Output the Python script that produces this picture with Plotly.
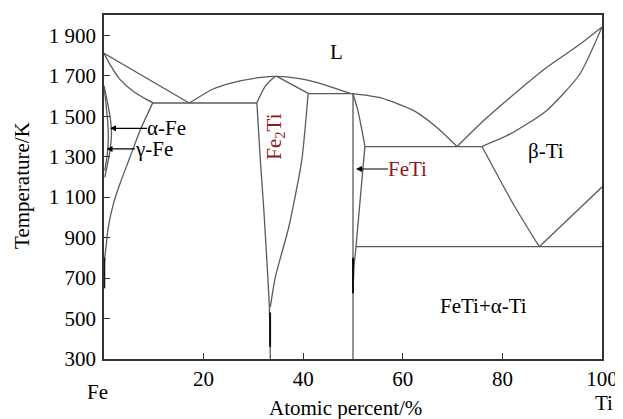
import plotly.graph_objects as go

# ---- data (atomic % Ti, temperature K) ----
fe_liquidus_x = [0, 17.1]
fe_liquidus_t = [1811, 1565]

fe_solidus_x = [0, 1.2, 3.2, 5.8, 8.5, 9.8]
fe_solidus_t = [1811, 1756, 1682, 1624, 1583, 1567]

eutectic1_x = [9.8, 30.7]
eutectic1_t = [1565, 1565]

fe2ti_liquidus_x = [17.1, 17.8, 21.8, 25.7, 31.1, 34.7, 39.0, 43.0, 47.0, 49.6]
fe2ti_liquidus_t = [1565, 1575, 1633, 1665, 1690, 1697, 1687, 1665, 1633, 1611]

fe2ti_solidus_left_x = [34.7, 34.3, 32.4, 30.7]
fe2ti_solidus_left_t = [1697, 1695, 1649, 1567]

fe2ti_solvus_left_x = [30.7, 31.4, 32.1, 32.7, 33.2, 33.4]
fe2ti_solvus_left_t = [1567, 1280, 1034, 787, 557, 300]

fe2ti_solidus_right_x = [34.7, 41.0]
fe2ti_solidus_right_t = [1697, 1613]

fe2ti_solvus_right_x = [41.0, 39.7, 37.1, 34.4, 33.4]
fe2ti_solvus_right_t = [1613, 1280, 951, 705, 557]

peritectic_x = [41.0, 50.0]
peritectic_t = [1611, 1611]

feti_left_x = [50.0, 50.0]
feti_left_t = [1611, 300]

feti_solidus_x = [50.0, 51.0, 52.4]
feti_solidus_t = [1611, 1526, 1352]

feti_solvus_x = [52.4, 51.6, 50.6, 50.2, 50.0]
feti_solvus_t = [1352, 1132, 855, 753, 625]

ti_side_liquidus_x = [50.0, 55.6, 62.3, 66.9, 70.9]
ti_side_liquidus_t = [1611, 1590, 1526, 1443, 1350]

eutectic2_x = [52.4, 75.9]
eutectic2_t = [1350, 1350]

ti_liquidus_x = [70.9, 76.2, 81.5, 88.8, 95.5, 100]
ti_liquidus_t = [1350, 1477, 1591, 1739, 1854, 1941]

ti_solidus_x = [75.9, 81.5, 88.8, 95.5, 100]
ti_solidus_t = [1350, 1411, 1526, 1706, 1941]

beta_transus_x = [75.9, 82.2, 87.4]
beta_transus_t = [1350, 1065, 855]

eutectoid_x = [50.6, 100]
eutectoid_t = [855, 855]

alpha_ti_x = [87.4, 100]
alpha_ti_t = [855, 1150]

fe_solvus_x = [9.8, 7.2, 5.2, 3.2, 1.9, 0.86, 0.4, 0.1, 0]
fe_solvus_t = [1567, 1427, 1296, 1166, 1068, 951, 853, 787, 650]

gamma_outer_x = [0, 0.6, 1.2, 1.5, 1.2, 0.6, 0.15]
gamma_outer_t = [1650, 1580, 1500, 1420, 1330, 1250, 1198]

gamma_inner_x = [0, 0.4, 0.75, 0.87, 0.7, 0.35, 0.15]
gamma_inner_t = [1650, 1560, 1470, 1394, 1320, 1260, 1231]

dark_segments = [([0.05, 0.05], [800, 650]),
                 ([33.35, 33.35], [530, 360]),
                 ([50.0, 50.0], [800, 625])]

y_ticks = [300, 500, 700, 900, 1100, 1300, 1500, 1700, 1900]
y_tick_text = ["300", "500", "700", "900", "1 100", "1 300", "1 500", "1 700", "1 900"]
x_ticks = [20, 40, 60, 80, 100]
x_tick_text = ["20", "40", "60", "80", "100"]

# (text, x, T, colour)
labels = [("L", 46.6, 1817, "black"),
          ("β-Ti", 88.8, 1329, "black"),
          ("FeTi+α-Ti", 76.3, 561, "black")]

# (text, arrow-head x, arrow-head T, text offset px, colour)
arrow_labels = [("α-Fe", 1.2, 1440, 57, "black"),
                ("γ-Fe", 0.5, 1338, 48, "black"),
                ("FeTi", 50.6, 1239, 52, "#8b1a1a")]

FONT = "Liberation Serif"
FS = 21
LINE = "#5a5a5a"

fig = go.Figure()

curves = [(fe_liquidus_x, fe_liquidus_t), (fe_solidus_x, fe_solidus_t),
          (eutectic1_x, eutectic1_t), (fe2ti_liquidus_x, fe2ti_liquidus_t),
          (fe2ti_solidus_left_x, fe2ti_solidus_left_t),
          (fe2ti_solvus_left_x, fe2ti_solvus_left_t),
          (fe2ti_solidus_right_x, fe2ti_solidus_right_t),
          (fe2ti_solvus_right_x, fe2ti_solvus_right_t),
          (peritectic_x, peritectic_t), (feti_left_x, feti_left_t),
          (feti_solidus_x, feti_solidus_t), (feti_solvus_x, feti_solvus_t),
          (ti_side_liquidus_x, ti_side_liquidus_t),
          (eutectic2_x, eutectic2_t), (ti_liquidus_x, ti_liquidus_t),
          (ti_solidus_x, ti_solidus_t), (beta_transus_x, beta_transus_t),
          (eutectoid_x, eutectoid_t), (alpha_ti_x, alpha_ti_t),
          (fe_solvus_x, fe_solvus_t), (gamma_outer_x, gamma_outer_t),
          (gamma_inner_x, gamma_inner_t)]

for cx, ct in curves:
    fig.add_trace(go.Scatter(x=cx, y=ct, mode="lines",
                             line=dict(color=LINE, width=1.3, shape="spline", smoothing=0.6),
                             hoverinfo="skip", showlegend=False))

for sx, st in dark_segments:
    fig.add_trace(go.Scatter(x=sx, y=st, mode="lines",
                             line=dict(color="#111111", width=2),
                             hoverinfo="skip", showlegend=False))

ann = []
for txt, lx, lt, col in labels:
    ann.append(dict(x=lx, y=lt, text=txt, showarrow=False,
                    xanchor="center", yanchor="middle",
                    font=dict(family=FONT, size=FS, color=col)))

for txt, hx, ht, off, col in arrow_labels:
    ann.append(dict(x=hx, y=ht, ax=off, ay=0, text=txt, showarrow=True,
                    arrowhead=2, arrowsize=1, arrowwidth=1.2, arrowcolor="black",
                    standoff=0, borderpad=0,
                    font=dict(family=FONT, size=FS, color=col)))

ann.append(dict(x=34.4, y=1400, text="Fe<sub>2</sub>Ti", textangle=-90, showarrow=False,
                xanchor="center", yanchor="middle",
                font=dict(family=FONT, size=FS, color="#8b1a1a")))

# element labels below axis
ann.append(dict(x=-0.014, y=0, xref="paper", yref="paper", xanchor="center",
                yanchor="middle", yshift=-33,
                text="Fe", showarrow=False, font=dict(family=FONT, size=FS, color="black")))
ann.append(dict(x=1.004, y=0, xref="paper", yref="paper", xanchor="center",
                yanchor="middle", yshift=-44,
                text="Ti", showarrow=False, font=dict(family=FONT, size=FS, color="black")))
# axis titles
ann.append(dict(x=0.484, y=0, xref="paper", yref="paper", xanchor="center",
                yanchor="middle", yshift=-49,
                text="Atomic percent/%", showarrow=False,
                font=dict(family=FONT, size=FS, color="black")))
ann.append(dict(x=0, y=0.503, xref="paper", yref="paper", xanchor="center",
                yanchor="middle", xshift=-82,
                text="Temperature/K", textangle=-90, showarrow=False,
                font=dict(family=FONT, size=FS, color="black")))

# page has a default 8px body margin: size/margins compensate for it
fig.update_layout(
    width=615, height=411,
    margin=dict(l=96, r=17, t=5, b=60),
    plot_bgcolor="white", paper_bgcolor="white",
    annotations=ann,
    font=dict(family=FONT, size=FS, color="black"),
)
fig.update_xaxes(range=[0, 100], tickvals=x_ticks, ticktext=x_tick_text,
                 ticks="inside", ticklen=6, tickcolor="#333", tickwidth=1.3,
                 showline=True, linecolor="#333", linewidth=1.5, mirror=True,
                 showgrid=False, zeroline=False,
                 tickfont=dict(family=FONT, size=FS, color="black"))
fig.update_yaxes(range=[300, 2000], tickvals=y_ticks, ticktext=y_tick_text,
                 ticks="inside", ticklen=6, tickcolor="#333", tickwidth=1.3,
                 showline=True, linecolor="#333", linewidth=1.5, mirror=True,
                 showgrid=False, zeroline=False, ticklabelstandoff=2,
                 tickfont=dict(family=FONT, size=FS, color="black"))

fig.write_html("out.html")
